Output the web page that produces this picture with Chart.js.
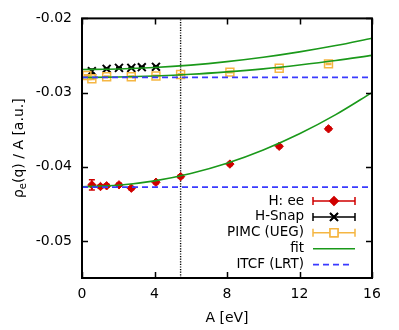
<!DOCTYPE html>
<html><head><meta charset="utf-8">
<script src="https://cdn.jsdelivr.net/npm/chart.js@4/dist/chart.umd.min.js"></script>
<style>html,body{margin:0;padding:0;background:#fff;}canvas{display:block;}</style>
</head><body>
<canvas id="c" width="399" height="330"></canvas>
<script>
// ---- data ----
const seriesNames = ['H: ee', 'H-Snap', 'PIMC (UEG)', 'fit', 'ITCF (LRT)'];
const xTicks = [0, 4, 8, 12, 16];
const yTicks = [-0.05, -0.04, -0.03, -0.02];

const eeA   = [0.544, 1.02, 1.36, 2.04, 2.72, 4.08, 5.44, 8.16, 10.88, 13.6];
const eeV   = [-0.04244, -0.04267, -0.04257, -0.04244, -0.04289, -0.04209, -0.04133, -0.03964, -0.03724, -0.03489];
const eeErr = [0.0007, 0.0002, 0.0002, 0.0002, 0.0002, 0.0002, 0.0002, 0.0002, 0.0002, 0.0002];

const snapA   = [0.544, 1.36, 2.04, 2.72, 3.3, 4.08];
const snapV   = [-0.02711, -0.0268, -0.02667, -0.02667, -0.02657, -0.02653];
const snapErr = [0.0003, 0.0001, 0.0001, 0.0001, 0.0001, 0.0001];

const pimcA   = [0.272, 0.544, 1.36, 2.72, 4.08, 5.44, 8.16, 10.88, 13.6];
const pimcV   = [-0.02769, -0.02813, -0.02787, -0.02787, -0.02777, -0.02756, -0.02724, -0.02671, -0.02613];
const pimcErr = [0.0001, 0.0001, 0.0001, 0.0001, 0.0001, 0.0001, 0.0001, 0.0001, 0.0001];

const fitA     = [0, 2, 4, 6, 8, 10, 12, 14, 16];
const fitEe    = [-0.04270, -0.04250, -0.04191, -0.04091, -0.03953, -0.03774, -0.03556, -0.03298, -0.03000];
const fitSnap  = [-0.02689, -0.02682, -0.02663, -0.02630, -0.02583, -0.02524, -0.02451, -0.02366, -0.02267];
const fitPimc  = [-0.02796, -0.02791, -0.02777, -0.02754, -0.02721, -0.02680, -0.02628, -0.02568, -0.02498];

const itcfA    = [0, 16];
const itcfLow  = [-0.04276, -0.04276];
const itcfHigh = [-0.02796, -0.02796];

const markerA  = [5.44, 5.44];
const markerV  = [-0.055, -0.02];

const xRange = [0, 16];
const yRange = [-0.055, -0.02];

// ---- styles ----
const RED = '#d00000', BLACK = '#000000', ORANGE = '#f5b642', GREEN = '#1a991a', BLUE = '#3a3aff';
const FONT = 'DejaVu Sans';

const pts = (xs, ys) => xs.map((x, i) => ({x: x, y: ys[i]}));

const datasets = [
  {label: seriesNames[0], data: pts(eeA, eeV), errs: eeErr, showLine: false,
   pointStyle: 'rectRot', pointRadius: 4.2, backgroundColor: RED, borderColor: RED, pointBorderWidth: 1, order: 5,
   legendKind: 'err'},
  {label: seriesNames[1], data: pts(snapA, snapV), errs: snapErr, showLine: false,
   pointStyle: 'crossRot', pointRadius: 5.6, borderColor: BLACK, backgroundColor: BLACK, pointBorderWidth: 2, order: 4,
   legendKind: 'err'},
  {label: seriesNames[2], data: pts(pimcA, pimcV), errs: pimcErr, showLine: false,
   pointStyle: 'rect', pointRadius: 5.6, borderColor: ORANGE, backgroundColor: 'rgba(0,0,0,0)', pointBorderWidth: 1.5, order: 3,
   legendKind: 'err'},
  {label: seriesNames[3], data: pts(fitA, fitEe), showLine: true, borderColor: GREEN, borderWidth: 1.6,
   pointRadius: 0, cubicInterpolationMode: 'monotone', order: 2, legendKind: 'line'},
  {label: seriesNames[3] + '2', data: pts(fitA, fitSnap), showLine: true, borderColor: GREEN, borderWidth: 1.6,
   pointRadius: 0, cubicInterpolationMode: 'monotone', order: 2, legendKind: 'none'},
  {label: seriesNames[3] + '3', data: pts(fitA, fitPimc), showLine: true, borderColor: GREEN, borderWidth: 1.6,
   pointRadius: 0, cubicInterpolationMode: 'monotone', order: 2, legendKind: 'none'},
  {label: seriesNames[4], data: pts(itcfA, itcfLow), showLine: true, borderColor: BLUE, borderWidth: 1.8,
   borderDash: [6, 4], pointRadius: 0, order: 1, legendKind: 'dash'},
  {label: seriesNames[4] + '2', data: pts(itcfA, itcfHigh), showLine: true, borderColor: BLUE, borderWidth: 1.8,
   borderDash: [6, 4], pointRadius: 0, order: 1, legendKind: 'none'},
  {label: 'marker', data: pts(markerA, markerV), showLine: true, borderColor: BLACK, borderWidth: 1.4,
   borderDash: [1.2, 1.4], pointRadius: 0, order: 6, legendKind: 'none'}
];

// error bars
const errorBars = {
  id: 'errorBars',
  beforeDatasetsDraw(chart) {
    const ctx = chart.ctx, xs = chart.scales.x, ys = chart.scales.y, ca = chart.chartArea;
    ctx.save();
    ctx.beginPath(); ctx.rect(ca.left, ca.top, ca.right - ca.left, ca.bottom - ca.top); ctx.clip();
    chart.data.datasets.forEach(ds => {
      if (!ds.errs) return;
      ctx.strokeStyle = ds.borderColor; ctx.lineWidth = 1.5;
      ds.data.forEach((p, i) => {
        const e = ds.errs[i];
        const px = xs.getPixelForValue(p.x);
        const y1 = ys.getPixelForValue(p.y - e), y2 = ys.getPixelForValue(p.y + e);
        ctx.beginPath();
        ctx.moveTo(px, y1); ctx.lineTo(px, y2);
        ctx.moveTo(px - 3, y1); ctx.lineTo(px + 3, y1);
        ctx.moveTo(px - 3, y2); ctx.lineTo(px + 3, y2);
        ctx.stroke();
      });
    });
    ctx.restore();
  }
};

// frame, inward ticks, titles, legend
const decor = {
  id: 'decor',
  afterDraw(chart) {
    const ctx = chart.ctx, xs = chart.scales.x, ys = chart.scales.y, ca = chart.chartArea;
    ctx.save();
    ctx.strokeStyle = '#000'; ctx.lineWidth = 1.5;
    const T = 6;
    ctx.beginPath();
    xTicks.forEach(v => {
      const px = Math.round(xs.getPixelForValue(v)) + 0.5;
      ctx.moveTo(px, ca.bottom); ctx.lineTo(px, ca.bottom - T);
      ctx.moveTo(px, ca.top); ctx.lineTo(px, ca.top + T);
    });
    yTicks.forEach(v => {
      const py = Math.round(ys.getPixelForValue(v)) + 0.5;
      ctx.moveTo(ca.left, py); ctx.lineTo(ca.left + T, py);
      ctx.moveTo(ca.right, py); ctx.lineTo(ca.right - T, py);
    });
    ctx.stroke();
    ctx.lineWidth = 2;
    ctx.strokeRect(ca.left, ca.top, ca.right - ca.left, ca.bottom - ca.top);

    // y-axis title with subscript
    ctx.fillStyle = '#000';
    ctx.translate(19, (ca.top + ca.bottom) / 2);
    ctx.rotate(-Math.PI / 2);
    const f1 = '14px "' + FONT + '"', f2 = '10px "' + FONT + '"';
    ctx.textBaseline = 'middle';
    ctx.font = f1; const wA = ctx.measureText('ρ').width, wC = ctx.measureText('(q) / A [a.u.]').width;
    ctx.font = f2; const wB = ctx.measureText('e').width;
    let x0 = -(wA + wB + wC) / 2;
    ctx.textAlign = 'left';
    ctx.font = f1; ctx.fillText('ρ', x0, 0);
    ctx.font = f2; ctx.fillText('e', x0 + wA, 4);
    ctx.font = f1; ctx.fillText('(q) / A [a.u.]', x0 + wA + wB, 0);
    ctx.setTransform(1, 0, 0, 1, 0, 0);

    // legend
    const rowY0 = 201, rowStep = 15.9, textR = 304, s0 = 313, s1 = 355;
    ctx.font = '13.5px "' + FONT + '"';
    ctx.textAlign = 'right'; ctx.textBaseline = 'middle';
    const items = chart.data.datasets.filter(d => d.legendKind !== 'none' && d.legendKind);
    items.forEach((ds, i) => {
      const y = rowY0 + i * rowStep;
      ctx.fillStyle = '#000';
      ctx.fillText(ds.label, textR, y);
      ctx.strokeStyle = ds.borderColor;
      ctx.lineWidth = ds.legendKind === 'err' ? 1.5 : (ds.borderWidth || 1.5);
      ctx.setLineDash(ds.legendKind === 'dash' ? ds.borderDash : []);
      ctx.beginPath();
      ctx.moveTo(s0, y); ctx.lineTo(ds.legendKind === 'dash' ? s1 - 4 : s1, y);
      if (ds.legendKind === 'err') {
        ctx.moveTo(s0, y - 4); ctx.lineTo(s0, y + 4);
        ctx.moveTo(s1, y - 4); ctx.lineTo(s1, y + 4);
      }
      ctx.stroke();
      ctx.setLineDash([]);
      if (ds.legendKind === 'err') {
        Chart.helpers.drawPoint(ctx, {
          pointStyle: ds.pointStyle, radius: ds.pointRadius, borderWidth: ds.pointBorderWidth, rotation: 0
        }, (s0 + s1) / 2, y);
        ctx.fillStyle = ds.backgroundColor; ctx.strokeStyle = ds.borderColor; ctx.lineWidth = ds.pointBorderWidth;
        if (ds.pointStyle === 'rect') { ctx.fillStyle = '#fff'; ctx.fill(); }
        else ctx.fill();
        ctx.stroke();
      }
    });
    ctx.restore();
  }
};

new Chart(document.getElementById('c'), {
  type: 'scatter',
  data: {datasets: datasets},
  options: {
    responsive: false, animation: false, devicePixelRatio: 1,
    layout: {padding: {top: 15, right: 27, left: 0, bottom: 0}},
    plugins: {legend: {display: false}, tooltip: {enabled: false}},
    scales: {
      x: {
        type: 'linear', min: xRange[0], max: xRange[1],
        grid: {display: false, drawTicks: false}, border: {display: false},
        afterBuildTicks: s => { s.ticks = xTicks.map(v => ({value: v})); },
        afterFit: s => { s.height = 52; },
        ticks: {color: '#000', font: {family: FONT, size: 14}, padding: 8, maxRotation: 0,
                callback: v => String(v)},
        title: {display: true, text: 'A [eV]', color: '#000', font: {family: FONT, size: 14},
                padding: {top: 0, bottom: 3}}
      },
      y: {
        type: 'linear', min: yRange[0], max: yRange[1],
        grid: {display: false, drawTicks: false}, border: {display: false},
        afterBuildTicks: s => { s.ticks = yTicks.map(v => ({value: v})); },
        afterFit: s => { s.width = 82; },
        ticks: {color: '#000', font: {family: FONT, size: 14}, padding: 10,
                callback: v => v.toFixed(2)}
      }
    }
  },
  plugins: [errorBars, decor]
});
</script>
</body></html>
